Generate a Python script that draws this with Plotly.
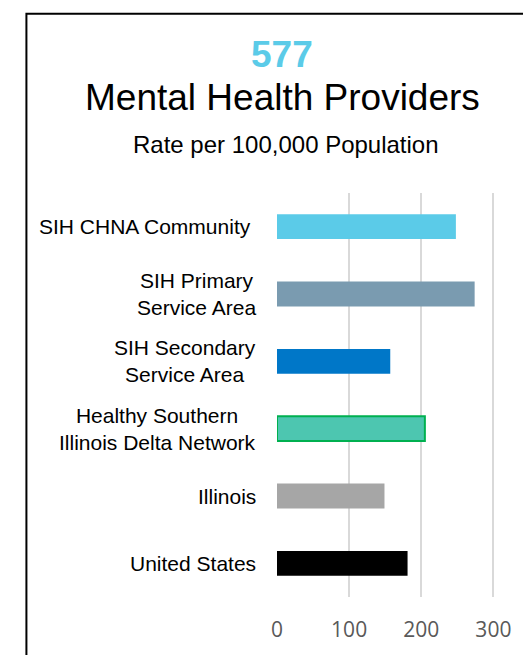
import plotly.graph_objects as go

# ---- data ----
categories = [
    "SIH CHNA Community\u00a0",
    "SIH Primary<br>Service Area",
    "SIH Secondary<br>Service Area",
    "Healthy Southern<br>Illinois Delta Network",
    "Illinois",
    "United States",
]
values = [248, 274, 157, 205, 149, 181]
bar_colors = ["#5BCBE8", "#7A9BB0", "#0077C8", "#4DC6B0", "#A6A6A6", "#000000"]
edge_colors = ["rgba(0,0,0,0)"] * 3 + ["#00B050"] + ["rgba(0,0,0,0)"] * 2
edge_widths = [0, 0, 0, 2, 0, 0]
tick_values = [0, 100, 200, 300]
headline_number = "577"
title_text = "Mental Health Providers"
subtitle_text = "Rate per 100,000 Population"

# ---- layout geometry (pixels) ----
W, H = 523, 655
L, R, T, B = 277, 500, 193, 602
pw, ph = R - L, B - T


def px(x):
    return (x - L) / pw


def py(y):
    return (B - y) / ph


fig = go.Figure(
    go.Bar(
        y=categories,
        x=values,
        orientation="h",
        width=0.37,
        marker=dict(color=bar_colors, line=dict(color=edge_colors, width=edge_widths)),
        hoverinfo="x+y",
    )
)

annotations = [
    dict(text="<b>" + headline_number + "</b>", x=px(282), y=py(53), xref="paper", yref="paper",
         showarrow=False, xanchor="center", yanchor="middle",
         font=dict(family="Liberation Sans, Arial", size=37, color="#5BCBE8")),
    dict(text=title_text, x=px(283), y=py(96), xref="paper", yref="paper",
         showarrow=False, xanchor="center", yanchor="middle",
         font=dict(family="Liberation Sans, Arial", size=37, color="#000000")),
    dict(text=subtitle_text, x=px(286), y=py(144), xref="paper", yref="paper",
         showarrow=False, xanchor="center", yanchor="middle",
         font=dict(family="Liberation Sans, Arial", size=24, color="#000000")),
]
for c in categories:
    annotations.append(
        dict(text=c, x=px(258), y=c, xref="paper", yref="y", showarrow=False,
             xanchor="right", yanchor="middle", align="center",
             font=dict(family="Liberation Sans, Arial", size=21, color="#000000"))
    )

fig.update_layout(
    width=W, height=H,
    margin=dict(l=L, r=W - R, t=T, b=H - B, pad=0),
    paper_bgcolor="white", plot_bgcolor="white",
    showlegend=False,
    annotations=annotations,
    shapes=[dict(type="rect", xref="paper", yref="paper",
                 x0=px(23), x1=px(560), y0=py(11.5), y1=py(700),
                 line=dict(color="#000000", width=2), fillcolor="rgba(0,0,0,0)", layer="below")],
    xaxis=dict(range=[0, 305], tickvals=tick_values, showgrid=True, gridcolor="#D9D9D9",
               gridwidth=1.5, zeroline=False, showline=False, ticks="outside", ticklen=14,
               tickcolor="rgba(0,0,0,0)",
               tickfont=dict(family="Open Sans", size=21, color="#595959"), fixedrange=True),
    yaxis=dict(autorange="reversed", showticklabels=False, showgrid=False, zeroline=False,
               showline=False, fixedrange=True),
)

fig.write_html(
    "out.html",
    config={"displayModeBar": False},
    post_script="document.body.style.margin='0';document.body.style.padding='0';document.body.style.overflow='hidden';",
)
